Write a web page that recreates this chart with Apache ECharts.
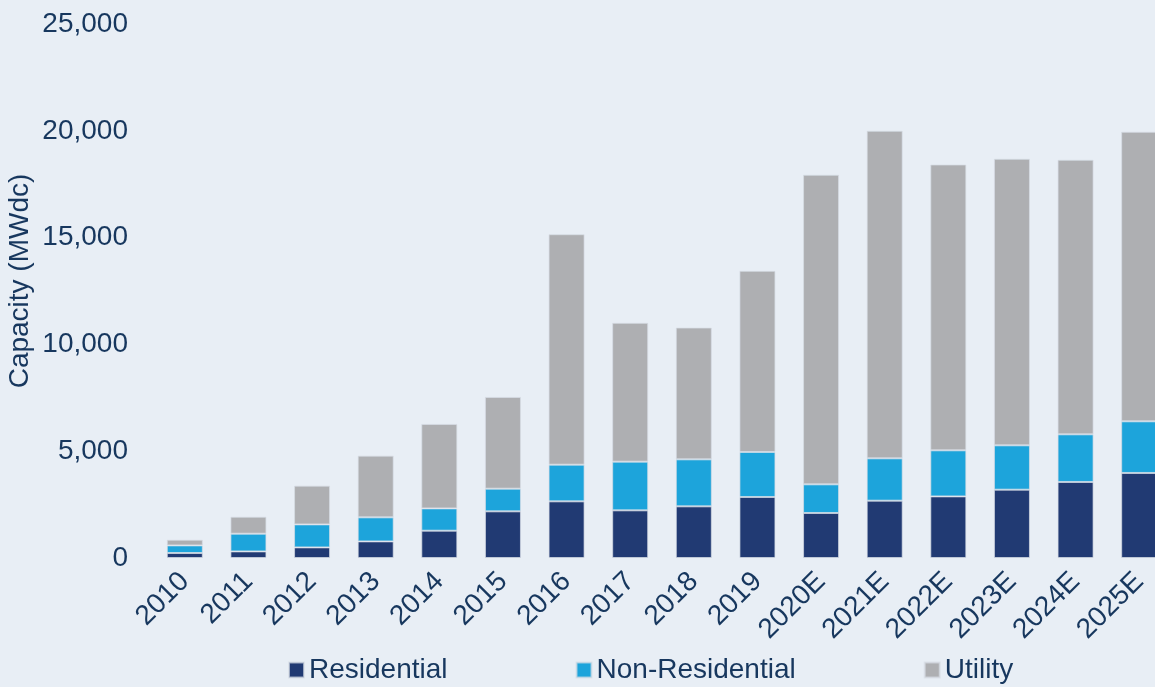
<!DOCTYPE html>
<html>
<head>
<meta charset="utf-8">
<script src="https://cdn.jsdelivr.net/npm/echarts@6/dist/echarts.min.js"></script>
<style>
html,body{margin:0;padding:0;background:#e8eef5;overflow:hidden;width:1155px;height:687px;}
#c{width:1171px;height:687px;}
</style>
</head>
<body>
<div id="c"></div>
<script>
const categories = ['2010','2011','2012','2013','2014','2015','2016','2017','2018','2019','2020E','2021E','2022E','2023E','2024E','2025E'];
const residential = [234, 309, 497, 778, 1279, 2183, 2651, 2230, 2417, 2857, 2108, 2684, 2885, 3199, 3560, 3981];
const nonResidential = [356, 829, 1077, 1124, 1044, 1063, 1719, 2281, 2201, 2108, 1339, 1981, 2155, 2075, 2229, 2417];
const utility = [267, 796, 1813, 2890, 3954, 4295, 10788, 6497, 6169, 8478, 14493, 15335, 13382, 13415, 12853, 13556];
const yTicks = [0, 5000, 10000, 15000, 20000, 25000];

const textColor = '#17375e';
const fontFamily = '"Liberation Sans", Arial, sans-serif';
const chart = echarts.init(document.getElementById('c'));
const mk = (name, data, color) => ({
  name, type: 'bar', stack: 'total', data, barWidth: 36,
  itemStyle: { color, borderColor: 'rgba(215,221,230,0.7)', borderWidth: 1 },
  emphasis: { disabled: true }
});
chart.setOption({
  backgroundColor: '#e8eef5',
  animation: false,
  textStyle: { fontFamily },
  grid: { left: 153, right: 0, top: 24, bottom: 129, outerBoundsMode: 'none', containLabel: false },
  legend: {
    left: 283, top: 651, itemWidth: 15, itemHeight: 15, itemGap: 128,
    icon: 'rect',
    textStyle: { color: textColor, fontSize: 28, fontFamily },
    data: ['Residential', 'Non-Residential', 'Utility']
  },
  xAxis: {
    type: 'category', data: categories,
    axisLine: { show: false }, axisTick: { show: false },
    axisLabel: { rotate: 45, margin: 19, color: textColor, fontSize: 28, fontFamily, interval: 0 }
  },
  yAxis: {
    type: 'value', min: yTicks[0], max: yTicks[yTicks.length - 1], interval: yTicks[1] - yTicks[0],
    name: 'Capacity (MWdc)', nameLocation: 'middle', nameGap: 119, nameMoveOverlap: false,
    nameTextStyle: { color: textColor, fontSize: 28, fontFamily, padding: [0, 0, 0, 20] },
    axisLine: { show: false }, axisTick: { show: false }, splitLine: { show: false },
    axisLabel: {
      margin: 25, color: textColor, fontSize: 28, fontFamily,
      formatter: v => v.toLocaleString('en-US')
    }
  },
  series: [
    mk('Residential', residential, '#213a73'),
    mk('Non-Residential', nonResidential, '#1da4db'),
    mk('Utility', utility, '#aeafb2')
  ]
});
</script>
</body>
</html>
